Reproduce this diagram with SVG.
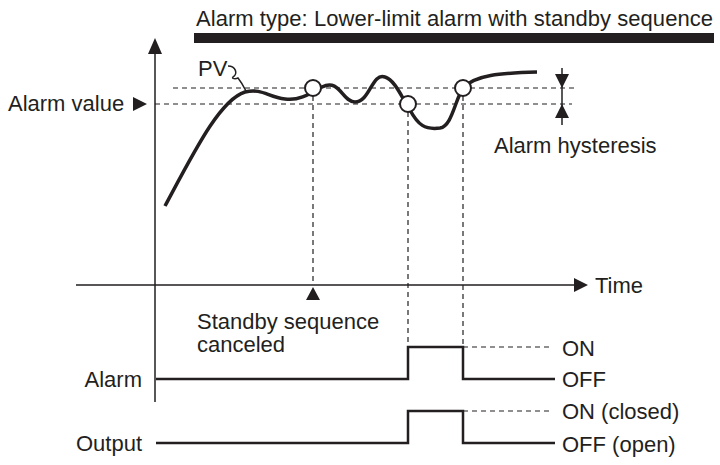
<svg xmlns="http://www.w3.org/2000/svg" width="720" height="465" viewBox="0 0 720 465">
<style>
text{font-family:"Liberation Sans",Arial,sans-serif;font-size:22px;fill:#231f20}
.ax{stroke:#231f20;stroke-width:1.5;fill:none}
.d{stroke:#231f20;stroke-width:1.2;stroke-dasharray:5,4;fill:none}
.s{stroke:#231f20;stroke-width:3.5;fill:none}
.c{fill:#fff;stroke:#231f20;stroke-width:2}
.t{fill:#231f20}
</style>
<rect width="720" height="465" fill="#fff"/>
<g id="title"><text x="196" y="26" textLength="517">Alarm type: Lower-limit alarm with standby sequence</text><rect x="194" y="33" width="520" height="10" class="t"/></g>
<g id="connectors">
<path class="ax" d="M155 52V402M76 285H576"/>
<path class="t" d="M155 38l-7 16h14zM588 285l-14-7v14zM313 287l-7 13h14zM147 104l-14-7v14z"/>
<path class="d" d="M173 88H578M155 104H572M313 96V282M408 112V347M463 96V347M463 347H552M463 411H552"/>
<path class="ax" d="M562 68V125"/>
<path class="t" d="M562 88l-7-14h14zM562 104l-7 14h14z"/>
<path class="s" d="M165 206C195 150 220 100 245 92C262 88 268 97 285 99C298 101 308 95 322 87C340 78 342 102 355 102C370 102 372 72 385 77C395 80 402 98 410 110C418 125 425 130 440 128C452 126 455 100 463 88C475 75 500 73 537 72"/>
<path class="ax" d="M228 66C236 66 238 74 233 77C231 79 236 79 238 78C242 83 244 87 246 91"/>
<path class="s" d="M156 379H408V347H463V379H555M156 443H408V411H463V443H555" style="stroke-width:2.5"/>
<circle class="c" cx="313" cy="88" r="8"/><circle class="c" cx="408" cy="104" r="8"/><circle class="c" cx="463" cy="88" r="8"/>
</g>
<g id="labels">
<text x="8" y="111">Alarm value</text>
<text x="198" y="76">PV</text>
<text x="494" y="153">Alarm hysteresis</text>
<text x="595" y="293">Time</text>
<text x="197" y="329">Standby sequence</text>
<text x="197" y="352">canceled</text>
<text x="142" y="387" text-anchor="end">Alarm</text>
<text x="142" y="451" text-anchor="end">Output</text>
<text x="562" y="356">ON</text>
<text x="562" y="387">OFF</text>
<text x="562" y="419">ON (closed)</text>
<text x="562" y="452">OFF (open)</text>
</g>
</svg>
